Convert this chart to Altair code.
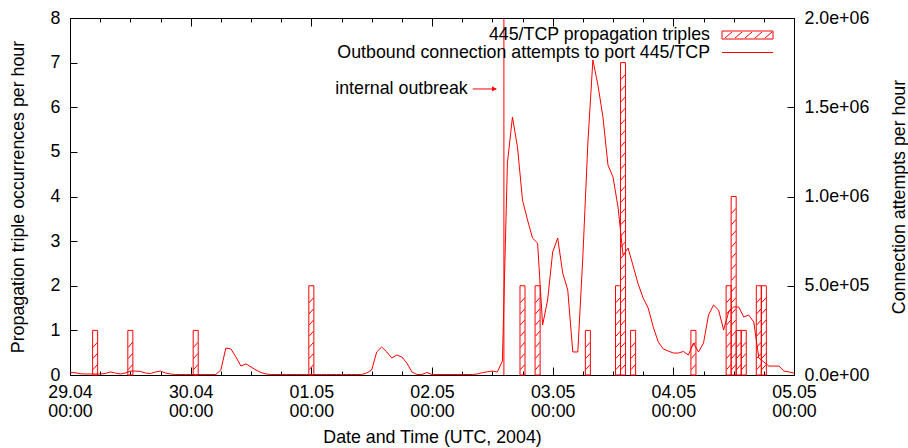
import json
import altair as alt
import pandas as pd

# ---------------- data ----------------
day_labels = ["29.04", "30.04", "01.05", "02.05", "03.05", "04.05", "05.05"]
n_hours = 144

# 445/TCP propagation triples (hour since 29.04 00:00 UTC, count)
bar_hours = [5, 12, 25, 48, 90, 93, 103, 109, 110, 112, 124, 131, 132, 133, 134, 137, 138]
bar_counts = [1, 1, 1, 2, 2, 2, 1, 2, 7, 1, 1, 2, 4, 1, 1, 2, 2]

# outbound connection attempts to port 445/TCP, per hour (hours 0..144)
attempts = [
    13000, 13000, 7000, 5600, 5600, 5600, 5600, 8400, 17000, 11000,
    5600, 11000, 22000, 22000, 20000, 11000, 8400, 17000, 22000, 11000,
    5600, 2800, 2800, 2800, 2800, 2800, 2800, 2800, 2800, 2800,
    28000, 151000, 146000, 101000, 50000, 62000, 45000, 28000, 14000, 5600,
    2800, 2800, 2800, 2800, 2800, 2800, 2800, 2800, 2800, 2800,
    2800, 2800, 2800, 2800, 2800, 2800, 2800, 2800, 2800, 11000,
    28000, 129000, 157000, 129000, 95000, 112000, 101000, 67000, 17000, 2800,
    2800, 14000, 2800, 2800, 2800, 2800, 2800, 2800, 2800, 2800,
    2800, 5600, 13000, 18000, 22000, 17000, 78000, 1188000, 1445000, 1277000,
    980000, 868000, 767000, 739000, 280000, 420000, 689000, 767000, 571000, 476000,
    129000, 129000, 661000, 1300000, 1765000, 1625000, 1445000, 1176000, 1109000, 941000,
    672000, 711000, 611000, 510000, 431000, 375000, 269000, 185000, 146000, 134000,
    123000, 123000, 132000, 112000, 179000, 129000, 179000, 336000, 392000, 364000,
    252000, 353000, 381000, 381000, 325000, 336000, 297000, 95000, 73000, 50000,
    50000, 50000, 22000, 17000, 11000,
]
assert len(attempts) == n_hours + 1
attempt_hours = list(range(n_hours + 1))

outbreak_hour = 86.3          # "internal outbreak" marker
outbreak_label_hour = 79.1
outbreak_label_level = 6.41

# ---------------- style ----------------
RED = "#ff0000"
FONT = "Liberation Sans"
FS = 17.8
W, H = 724, 357
Y_MAX = 8
Y2_MAX = 2.0e6

x_scale = alt.Scale(domain=[0, n_hours], nice=False, zero=False)
y_scale = alt.Scale(domain=[0, Y_MAX], nice=False, zero=True)
y2_scale = alt.Scale(domain=[0, Y2_MAX], nice=False, zero=True)

major_x = list(range(0, n_hours + 1, 24))
minor_x = [h for h in range(0, n_hours + 1, 6) if h % 24 != 0]

def tick_axis(orient, values, size):
    return alt.Axis(orient=orient, values=values, ticks=True, tickSize=size,
                    offset=-size, labels=False, domain=False, title=None,
                    grid=False, tickColor="black", tickWidth=1)

# ---------------- tables ----------------
bars_df = pd.DataFrame({"hour": bar_hours, "count": bar_counts})
bars_df["x0"] = bars_df["hour"] - 0.5
bars_df["x1"] = bars_df["hour"] + 0.5
bars_df["base"] = 0

hatch_rows = []
for h, c in zip(bar_hours, bar_counts):
    k = 0.12
    while k + 0.11 <= c - 0.04:
        hatch_rows.append({"x0": h - 0.42, "x1": h + 0.42, "y0": k, "y1": k + 0.11})
        k += 0.25
hatch_df = pd.DataFrame(hatch_rows)

line_df = pd.DataFrame({"hour": attempt_hours, "attempts": attempts})

outbreak_df = pd.DataFrame({"hour": [outbreak_hour], "top": [Y2_MAX], "bottom": [0.0]})
arrow_df = pd.DataFrame({"x0": [outbreak_label_hour + 1.0], "x1": [outbreak_hour - 1.5],
                         "y": [outbreak_label_level]})
arrowhead_df = pd.DataFrame({"x": [outbreak_hour - 1.9], "y": [outbreak_label_level]})
label_df = pd.DataFrame({"x": [outbreak_label_hour], "y": [outbreak_label_level],
                         "t": ["internal outbreak"]})

label_expr = "[" + json.dumps(day_labels) + "[round(datum.value/24)], '00:00']"

# ---------------- layers ----------------
bars = alt.Chart(bars_df).mark_rect(fill="transparent", stroke=RED, strokeWidth=1).encode(
    x=alt.X("x0:Q", scale=x_scale,
            axis=alt.Axis(orient="bottom", values=major_x, labelExpr=label_expr,
                          ticks=False, tickSize=0, domain=False, grid=False,
                          labelFlush=False, labelOverlap=False, labelPadding=8,
                          labelLineHeight=19, labelBaseline="top",
                          title="Date and Time (UTC, 2004)", titleX=W / 2, titleY=62,
                          titleBaseline="middle", titleAlign="center")),
    x2="x1:Q",
    y=alt.Y("count:Q", scale=y_scale,
            axis=alt.Axis(orient="left", values=list(range(0, Y_MAX + 1)),
                          ticks=False, tickSize=0, domain=False, grid=False,
                          labelPadding=10, labelFlush=False,
                          title="Propagation triple occurrences per hour",
                          titleX=-52, titleY=H / 2, titleAngle=270,
                          titleAlign="center", titleBaseline="middle")),
    y2="base:Q",
)

hatch = alt.Chart(hatch_df).mark_rule(color=RED, strokeWidth=1).encode(
    x=alt.X("x0:Q", scale=x_scale, axis=tick_axis("bottom", major_x, 8)),
    x2="x1:Q",
    y=alt.Y("y0:Q", scale=y_scale, axis=tick_axis("left", list(range(0, Y_MAX + 1)), 7)),
    y2="y1:Q",
)

line = alt.Chart(line_df).mark_line(color=RED, strokeWidth=1, clip=True).encode(
    x=alt.X("hour:Q", scale=x_scale, axis=tick_axis("bottom", minor_x, 4)),
    y=alt.Y("attempts:Q", scale=y2_scale,
            axis=alt.Axis(orient="right", values=[0, 5e5, 1e6, 1.5e6, 2e6],
                          labelExpr="replace(format(datum.value, '.1e'), 'e+', 'e+0')",
                          ticks=False, tickSize=0, domain=False, grid=False,
                          labelPadding=10, labelFlush=False,
                          title="Connection attempts per hour",
                          titleX=105, titleY=H / 2, titleAngle=270,
                          titleAlign="center", titleBaseline="middle")),
)

outbreak = alt.Chart(outbreak_df).mark_rule(color=RED, strokeWidth=1).encode(
    x=alt.X("hour:Q", scale=x_scale, axis=tick_axis("top", major_x, 8)),
    y=alt.Y("top:Q", scale=y2_scale,
            axis=tick_axis("right", [0, 5e5, 1e6, 1.5e6, 2e6], 7)),
    y2="bottom:Q",
)

arrow = alt.Chart(arrow_df).mark_rule(color=RED, strokeWidth=1).encode(
    x=alt.X("x0:Q", scale=x_scale, axis=tick_axis("top", minor_x, 4)),
    x2="x1:Q",
    y=alt.Y("y:Q", scale=y_scale, axis=None),
)

arrowhead = alt.Chart(arrowhead_df).mark_point(
    shape="triangle-right", filled=True, color=RED, size=28, opacity=1
).encode(
    x=alt.X("x:Q", scale=x_scale, axis=None),
    y=alt.Y("y:Q", scale=y_scale, axis=None),
)

label = alt.Chart(label_df).mark_text(
    align="right", baseline="middle", font=FONT, fontSize=FS, color="black"
).encode(
    x=alt.X("x:Q", scale=x_scale, axis=None),
    y=alt.Y("y:Q", scale=y_scale, axis=None),
    text="t:N",
)

# ---------------- key (legend) ----------------
key_names = ["445/TCP propagation triples", "Outbound connection attempts to port 445/TCP"]
key_df = pd.DataFrame({"name": key_names, "row": [0, 1]})
key_text = alt.Chart(key_df).mark_text(
    align="right", baseline="middle", font=FONT, fontSize=FS, color="black"
).encode(
    x=alt.value(640),
    y=alt.Y("row:Q", scale=alt.Scale(domain=[0, 1], range=[17, 35]), axis=None),
    text="name:N",
)

key_box = alt.Chart(pd.DataFrame({"k": [0]})).mark_rect(
    fill="transparent", stroke=RED, strokeWidth=1
).encode(x=alt.value(652), x2=alt.value(703), y=alt.value(13), y2=alt.value(21))

key_hatch_df = pd.DataFrame({"xa": list(range(655, 696, 10))})
key_hatch_df["xb"] = key_hatch_df["xa"] + 7
key_hatch = alt.Chart(key_hatch_df).mark_rule(color=RED, strokeWidth=1).encode(
    x=alt.X("xa:Q", scale=None), x2="xb:Q", y=alt.value(20), y2=alt.value(14)
)

key_line = alt.Chart(pd.DataFrame({"k": [0]})).mark_rule(color=RED, strokeWidth=1).encode(
    x=alt.value(652), x2=alt.value(703), y=alt.value(34.5)
)

chart = alt.layer(
    bars, hatch, line, outbreak, arrow, arrowhead, label,
    key_text, key_box, key_hatch, key_line,
).resolve_scale(
    y="independent"
).resolve_axis(
    x="independent", y="independent"
).properties(
    width=W, height=H,
    autosize=alt.AutoSizeParams(type="none"),
    padding={"left": 70, "top": 18, "right": 114, "bottom": 73},
    background="white",
).configure_view(
    stroke="black", strokeWidth=1
).configure_axis(
    labelFont=FONT, labelFontSize=FS, labelColor="black",
    titleFont=FONT, titleFontSize=FS, titleFontWeight="normal", titleColor="black",
    grid=False,
)

chart.save("out.html", embed_options={"renderer": "svg", "actions": False})
